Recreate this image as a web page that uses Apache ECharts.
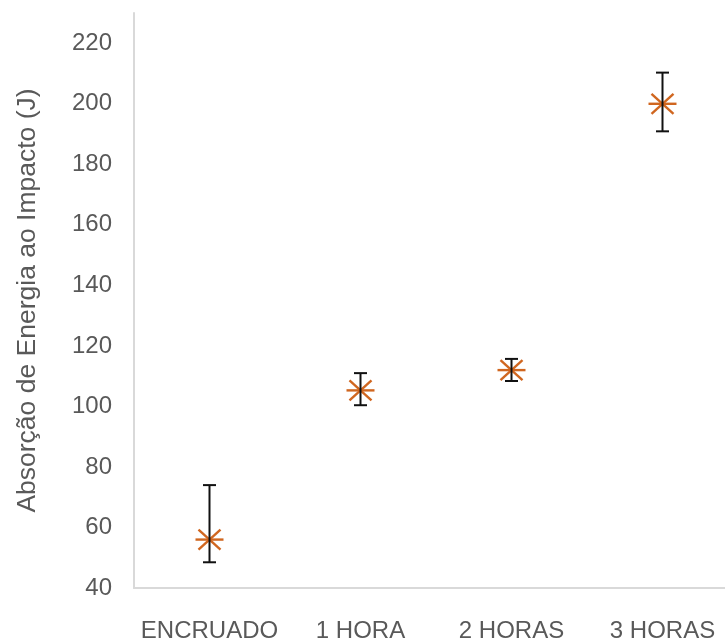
<!DOCTYPE html>
<html>
<head>
<meta charset="utf-8">
<script src="https://cdn.jsdelivr.net/npm/echarts@6/dist/echarts.min.js"></script>
<style>
html,body{margin:0;padding:0;background:#fff;}
#chart{width:725px;height:642px;}
</style>
</head>
<body>
<div id="chart"></div>
<script>
const categories = ['ENCRUADO', '1 HORA', '2 HORAS', '3 HORAS'];
const means = [56, 105.3, 112, 200];
const lower = [48.5, 100.4, 108.4, 190.9];
const upper = [74, 111, 115.7, 210.3];
const yTitle = 'Absorção de Energia ao Impacto (J)';

const data = categories.map((c, i) => [i, means[i], lower[i], upper[i]]);

const FONT = 'Liberation Sans';
const chart = echarts.init(document.getElementById('chart'));

function renderItem(params, api) {
  const i = api.value(0);
  const c = api.coord([i, api.value(1)]);
  const lo = api.coord([i, api.value(2)]);
  const hi = api.coord([i, api.value(3)]);
  const orange = '#D0661F';
  const mStyle = { stroke: orange, lineWidth: 2.4 };
  const eStyle = { stroke: '#111', lineWidth: 2 };
  const cap = 6.5;
  return {
    type: 'group',
    children: [
      { type: 'line', shape: { x1: c[0] - 14, y1: c[1], x2: c[0] + 14, y2: c[1] }, style: mStyle },
      { type: 'line', shape: { x1: c[0] - 11, y1: c[1] - 10, x2: c[0] + 11, y2: c[1] + 10 }, style: mStyle },
      { type: 'line', shape: { x1: c[0] - 11, y1: c[1] + 10, x2: c[0] + 11, y2: c[1] - 10 }, style: mStyle },
      { type: 'line', shape: { x1: lo[0], y1: lo[1], x2: hi[0], y2: hi[1] }, style: eStyle },
      { type: 'line', shape: { x1: lo[0] - cap, y1: lo[1], x2: lo[0] + cap, y2: lo[1] }, style: eStyle },
      { type: 'line', shape: { x1: hi[0] - cap, y1: hi[1], x2: hi[0] + cap, y2: hi[1] }, style: eStyle }
    ]
  };
}

chart.setOption({
  animation: false,
  backgroundColor: '#ffffff',
  grid: { left: 134, top: 13, width: 604, height: 575, outerBoundsMode: 'none', containLabel: false },
  xAxis: {
    type: 'category',
    data: categories,
    boundaryGap: true,
    axisLine: { show: true, lineStyle: { color: '#D9D9D9', width: 2 } },
    axisTick: { show: false },
    axisLabel: { color: '#595959', fontFamily: FONT, fontSize: 24, margin: 31, interval: 0, hideOverlap: false },
    splitLine: { show: false }
  },
  yAxis: {
    type: 'value',
    min: 40,
    max: 230,
    interval: 20,
    name: yTitle,
    nameLocation: 'middle',
    nameGap: 93,
    nameTextStyle: { color: '#595959', fontFamily: FONT, fontSize: 26.5 },
    axisLine: { show: true, lineStyle: { color: '#D9D9D9', width: 2 } },
    axisTick: { show: false },
    axisLabel: { color: '#595959', fontFamily: FONT, fontSize: 24, margin: 22, showMaxLabel: false },
    splitLine: { show: false }
  },
  series: [{
    type: 'custom',
    renderItem: renderItem,
    encode: { x: 0, y: 1 },
    data: data
  }]
});
</script>
</body>
</html>
